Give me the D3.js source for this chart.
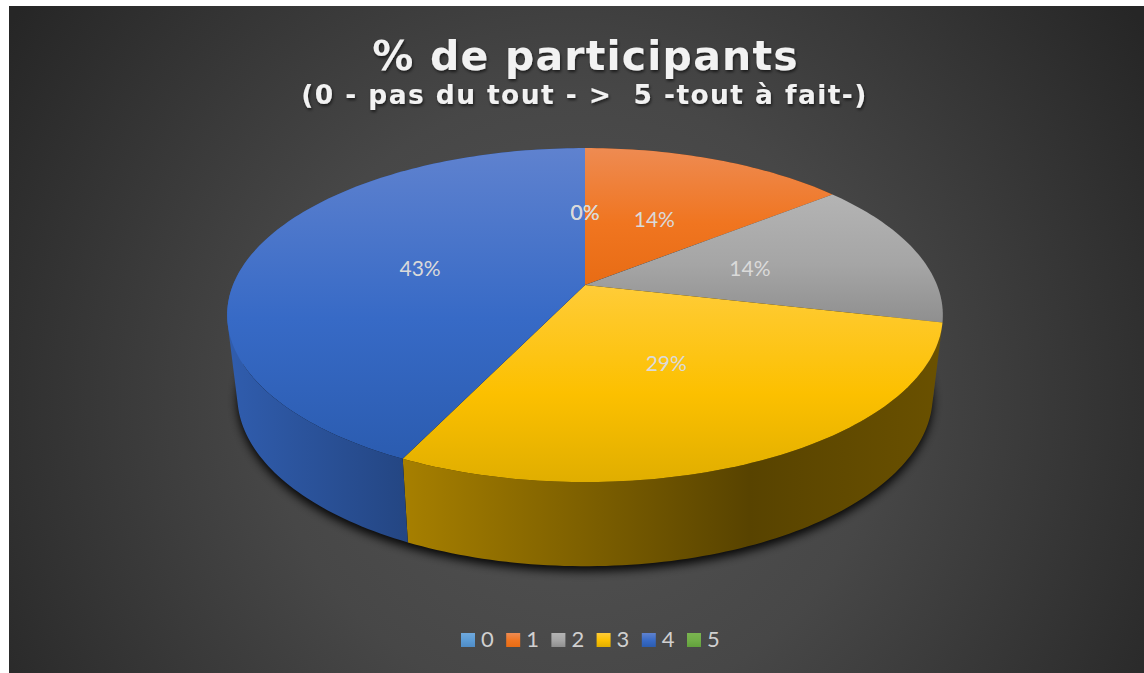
<!DOCTYPE html>
<meta charset="utf-8">
<style>
html, body { margin: 0; padding: 0; background: #fff; }
svg { display: block; }
.title { font-family: "DejaVu Sans", sans-serif; font-weight: bold; fill: #f2f2f2; text-anchor: middle; white-space: pre; }
.pct { font-family: Lato, sans-serif; font-size: 21px; fill: #dadada; text-anchor: middle; }
.leg { font-family: Lato, sans-serif; font-size: 22px; fill: #d0d0d0; }
</style>

<svg width="1144" height="673"></svg>
<script src="https://d3js.org/d3.v7.min.js"></script>
<script>

var categories = ["0", "1", "2", "3", "4", "5"];
var participants = [0, 1, 1, 2, 3, 0];
var baseColors = ["#5b9bd5", "#f07520", "#a5a5a5", "#fcc000", "#376ac6", "#70ad47"];
var lightColors = ["#6fa9dd", "#ee8b52", "#b4b4b4", "#ffcc38", "#5f82cf", "#7ab450"];
var darkColors = ["#4f8cc6", "#e86c14", "#8f8f8f", "#e0ae00", "#2b5cb0", "#62a03c"];
var titleText = "% de participants";
var subtitleText = "(0 - pas du tout - >  5 -tout à fait-)";

var svg = d3.select("svg"),
    width = +svg.attr("width"),
    height = +svg.attr("height");

var defs = svg.append("defs");

// camera: far edge of the disc shrinks, so the centre sits above the ellipse middle
var tilt = 0.18;
var topDisc = { cx: 585, cy: 285, a: 352, b: 161.6 };
var lowDisc = { cx: 585, cy: 365, a: 342, b: 165 };

function project(disc, angle, r) {
  var u = Math.sin(angle) * r,
      v = -Math.cos(angle) * r,
      w = 1 - tilt * v;
  return [disc.cx + disc.a * u / w, disc.cy + disc.b * v / w];
}

function arcPoints(disc, a0, a1) {
  var n = Math.max(2, Math.ceil((a1 - a0) / 0.02));
  return d3.range(n + 1).map(function(i) {
    return project(disc, a0 + (a1 - a0) * i / n, 1);
  });
}

var line = d3.line();

// wall as small quads, all wound the same way or the back ones cancel the front ones
function wallPath(a0, a1) {
  var upper = arcPoints(topDisc, a0, a1),
      lower = arcPoints(lowDisc, a0, a1),
      d = "";
  for (var i = 0; i < upper.length - 1; i++) {
    var quad = [upper[i], upper[i + 1], lower[i + 1], lower[i]];
    if (d3.polygonArea(quad) < 0) quad.reverse();
    d += line(quad) + "Z";
  }
  return d;
}

var pie = d3.pie().sort(null).value(function(d, i) { return participants[i]; });
var slices = pie(categories);
var total = d3.sum(participants);
var color = d3.scaleOrdinal(categories, baseColors);

// background
var bg = defs.append("radialGradient").attr("id", "bg").attr("gradientUnits", "userSpaceOnUse")
    .attr("cx", 576).attr("cy", 400).attr("r", 680);
bg.append("stop").attr("offset", 0).attr("stop-color", "#545454");
bg.append("stop").attr("offset", 0.45).attr("stop-color", "#474747");
bg.append("stop").attr("offset", 1).attr("stop-color", "#262626");
svg.append("rect").attr("x", 9).attr("y", 6).attr("width", width - 9).attr("height", height - 6).attr("fill", "url(#bg)");

// gradients
categories.forEach(function(c, i) {
  var g = defs.append("linearGradient").attr("id", "top" + i).attr("x1", 0).attr("y1", 0).attr("x2", 0).attr("y2", 1);
  g.append("stop").attr("offset", 0).attr("stop-color", lightColors[i]);
  g.append("stop").attr("offset", 0.55).attr("stop-color", color(c));
  g.append("stop").attr("offset", 1).attr("stop-color", darkColors[i]);

  var toBlack = d3.interpolateRgb("#000", color(c));
  var w = defs.append("linearGradient").attr("id", "wall" + i).attr("gradientUnits", "userSpaceOnUse")
      .attr("x1", 227).attr("y1", 0).attr("x2", 943).attr("y2", 0);
  [[0, 0.88], [0.25, 0.66], [0.73, 0.35], [1, 0.42]].forEach(function(s) {
    w.append("stop").attr("offset", s[0]).attr("stop-color", toBlack(s[1]));
  });
});

var blur = defs.append("filter").attr("id", "blur").attr("x", "-10%").attr("y", "-10%").attr("width", "120%").attr("height", "120%");
blur.append("feGaussianBlur").attr("stdDeviation", 5);

var textShadow = defs.append("filter").attr("id", "textShadow").attr("x", "-5%").attr("y", "-20%").attr("width", "110%").attr("height", "150%");
textShadow.append("feDropShadow").attr("dx", 1).attr("dy", 2).attr("stdDeviation", 1.5).attr("flood-color", "#000").attr("flood-opacity", 0.6);

// shadow under the pie
svg.append("path")
    .attr("d", line(arcPoints(lowDisc, 0, 2 * Math.PI)) + "Z")
    .attr("transform", "translate(0,5)")
    .attr("fill", "#000")
    .attr("opacity", 0.9)
    .attr("filter", "url(#blur)");

// side walls
svg.append("g").selectAll("path")
  .data(slices.filter(function(d) { return d.value > 0; }))
  .enter().append("path")
    .attr("d", function(d) { return wallPath(d.startAngle, d.endAngle); })
    .attr("fill", function(d) { return "url(#wall" + d.index + ")"; });

// top face
svg.append("g").selectAll("path")
  .data(slices.filter(function(d) { return d.value > 0; }))
  .enter().append("path")
    .attr("d", function(d) {
      return line([[topDisc.cx, topDisc.cy]].concat(arcPoints(topDisc, d.startAngle, d.endAngle))) + "Z";
    })
    .attr("fill", function(d) { return "url(#top" + d.index + ")"; });

// percent labels, the two empty slices land on the same spot
svg.append("g").selectAll("text")
  .data(slices)
  .enter().append("text")
    .attr("class", "pct")
    .attr("x", function(d) { return project(topDisc, (d.startAngle + d.endAngle) / 2, 0.49)[0]; })
    .attr("y", function(d) { return project(topDisc, (d.startAngle + d.endAngle) / 2, 0.49)[1] + 8; })
    .text(function(d) { return d3.format(".0%")(d.value / total); });

// titles
svg.append("text").attr("class", "title")
    .attr("x", 585.5).attr("y", 70)
    .style("font-size", "41px").style("letter-spacing", "1.2px")
    .attr("filter", "url(#textShadow)")
    .text(titleText);
svg.append("text").attr("class", "title")
    .attr("x", 584.5).attr("y", 104)
    .style("font-size", "26.5px").style("letter-spacing", "1.4px")
    .attr("filter", "url(#textShadow)")
    .text(subtitleText);

// legend
var legendX = d3.scalePoint().domain(categories).range([461, 687]);
var legend = svg.append("g").selectAll("g")
  .data(categories)
  .enter().append("g")
    .attr("transform", function(d) { return "translate(" + legendX(d) + ",633)"; });
legend.append("rect").attr("width", 14).attr("height", 14)
    .attr("fill", function(d, i) { return "url(#top" + i + ")"; });
legend.append("text").attr("class", "leg").attr("x", 20).attr("y", 14)
    .text(function(d) { return d; });

</script>
